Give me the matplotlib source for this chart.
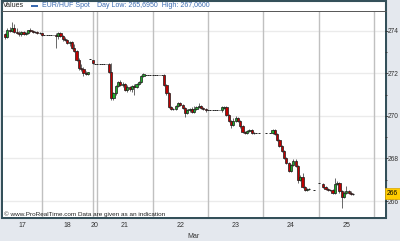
import matplotlib
matplotlib.use("Agg")
import matplotlib.pyplot as plt
from matplotlib.patches import Rectangle

plt.rcParams['font.family'] = ['Liberation Sans', 'DejaVu Sans']

# hourly candles, hour 0 = start of chart (17 Mar morning)
hours = [1, 2, 3, 4, 5, 6, 7, 8, 9, 10, 11, 12, 13, 14, 15, 16,
         17, 23, 24, 25, 26, 27, 28, 29, 30, 31, 32, 33, 34, 35, 36, 37,
         39,
         46, 47, 48, 49, 50, 51, 52, 53, 54, 55, 56, 57, 58, 59, 60, 61,
         70, 71, 72, 73, 74, 75, 76, 77, 78, 79, 80, 81, 82, 83, 84, 85, 86, 87, 88,
         95, 96, 97, 98, 99, 100, 101, 102, 103, 104, 105, 106, 107, 108, 109,
         117, 118, 119, 120, 121, 122, 123, 124, 125, 126, 127, 128, 129, 130, 131, 132, 133,
         139, 140, 141, 142, 143, 144, 145, 146, 147, 148, 149, 150, 151, 152]
opens = [273.85, 273.70, 274.05, 274.00, 274.10, 273.95, 273.90, 273.85, 273.95, 273.85, 273.90, 274.05, 274.00, 273.95, 273.95, 273.90,
         273.90, 273.80, 273.75, 273.90, 273.75, 273.60, 273.55, 273.40, 273.45, 273.20, 273.05, 272.60, 272.25, 272.20, 272.00, 271.95,
         272.60,
         272.45, 272.05, 270.85, 271.05, 271.40, 271.60, 271.45, 271.50, 271.20, 271.35, 271.25, 271.40, 271.35, 271.50, 271.60, 271.85,
         271.90, 271.45, 271.05, 270.40, 270.30, 270.30, 270.45, 270.60, 270.50, 270.35, 270.15, 270.25, 270.30, 270.20, 270.30, 270.40, 270.45, 270.35, 270.30,
         270.25, 270.35, 270.40, 270.05, 269.75, 269.55, 269.75, 269.90, 269.75, 269.50, 269.25, 269.20, 269.30, 269.35, 269.20,
         269.20, 269.35, 269.15, 268.85, 268.60, 268.35, 268.00, 267.80, 267.40, 267.70, 267.90, 267.65, 267.00, 267.15, 266.65, 266.50, 266.55,
         266.80, 266.65, 266.55, 266.50, 266.50, 266.40, 266.80, 266.85, 266.45, 266.20, 266.40, 266.45, 266.40, 266.35]
highs = [273.90, 274.10, 274.15, 274.40, 274.30, 274.10, 274.00, 274.00, 274.00, 273.95, 274.05, 274.10, 274.05, 274.00, 274.00, 273.95,
         273.90, 273.90, 273.95, 273.95, 273.80, 273.70, 273.60, 273.50, 273.50, 273.35, 273.10, 272.70, 272.45, 272.30, 272.10, 272.05,
         272.60,
         272.50, 272.50, 271.10, 271.45, 271.65, 271.70, 271.60, 271.55, 271.45, 271.40, 271.45, 271.50, 271.55, 271.65, 271.90, 272.00,
         271.95, 271.50, 271.10, 270.45, 270.35, 270.50, 270.65, 270.65, 270.55, 270.40, 270.30, 270.35, 270.40, 270.45, 270.45, 270.60, 270.50, 270.40, 270.35,
         270.45, 270.45, 270.45, 270.10, 269.80, 269.90, 270.00, 269.95, 269.80, 269.55, 269.30, 269.35, 269.40, 269.40, 269.25,
         269.40, 269.40, 269.20, 268.90, 268.65, 268.40, 268.05, 267.85, 267.75, 267.95, 267.95, 267.70, 267.20, 267.30, 266.70, 266.60, 266.60,
         266.85, 266.70, 266.60, 266.55, 266.55, 267.06, 266.95, 266.90, 266.50, 266.45, 266.70, 266.50, 266.45, 266.40]
lows = [273.60, 273.65, 273.95, 273.95, 273.90, 273.85, 273.75, 273.75, 273.80, 273.80, 273.85, 273.95, 273.90, 273.90, 273.85, 273.85,
        273.75, 273.20, 273.60, 273.70, 273.50, 273.50, 273.35, 273.30, 273.15, 273.00, 272.55, 272.15, 272.10, 271.85, 271.90, 271.90,
        272.45,
        272.00, 270.75, 270.75, 271.00, 271.35, 271.40, 271.35, 271.15, 271.10, 271.15, 271.10, 271.00, 271.30, 271.45, 271.55, 271.80,
        271.40, 271.00, 270.35, 270.25, 270.25, 270.25, 270.40, 270.45, 270.30, 269.95, 270.10, 270.20, 270.15, 270.15, 270.25, 270.35, 270.30, 270.25, 270.20,
        270.20, 270.30, 270.00, 269.70, 269.45, 269.50, 269.70, 269.70, 269.45, 269.20, 269.15, 269.15, 269.25, 269.15, 269.15,
        269.15, 269.10, 268.80, 268.55, 268.30, 267.95, 267.75, 267.35, 267.35, 267.65, 267.60, 266.85, 266.95, 266.60, 266.45, 266.45, 266.50,
        266.60, 266.50, 266.45, 266.45, 266.35, 266.35, 266.75, 266.40, 265.695, 266.15, 266.35, 266.35, 266.30, 266.30]
closes = [273.70, 274.05, 274.00, 274.10, 273.95, 273.90, 273.85, 273.95, 273.85, 273.90, 274.05, 274.00, 273.95, 273.95, 273.90, 273.90,
          273.80, 273.75, 273.90, 273.75, 273.60, 273.55, 273.40, 273.45, 273.20, 273.05, 272.60, 272.25, 272.20, 272.00, 271.95, 272.05,
          272.50,
          272.05, 270.85, 271.05, 271.40, 271.60, 271.45, 271.50, 271.20, 271.35, 271.25, 271.40, 271.35, 271.50, 271.60, 271.85, 271.95,
          271.45, 271.05, 270.40, 270.30, 270.30, 270.45, 270.60, 270.50, 270.35, 270.15, 270.25, 270.30, 270.20, 270.30, 270.40, 270.45, 270.35, 270.30, 270.25,
          270.40, 270.40, 270.05, 269.75, 269.55, 269.75, 269.90, 269.75, 269.50, 269.25, 269.20, 269.30, 269.35, 269.20, 269.20,
          269.35, 269.15, 268.85, 268.60, 268.35, 268.00, 267.80, 267.40, 267.70, 267.90, 267.65, 267.00, 267.15, 266.65, 266.50, 266.55, 266.55,
          266.65, 266.55, 266.50, 266.50, 266.40, 266.80, 266.85, 266.45, 266.20, 266.40, 266.45, 266.40, 266.35, 266.35]

# hours with no movement (drawn as dashes)
flat_hours = [18, 19, 20, 21, 22, 38, 40, 41, 42, 43, 44, 45,
              62, 63, 64, 65, 66, 67, 68, 69, 89, 90, 91, 92, 93, 94,
              110, 111, 114, 116, 135, 137]
flat_prices = [273.80, 273.80, 273.80, 273.80, 273.80, 272.65, 272.45, 272.45, 272.45, 272.45, 272.45, 272.45,
               271.90, 271.90, 271.90, 271.90, 271.90, 271.90, 271.90, 271.90, 270.25, 270.25, 270.25, 270.25, 270.25, 270.25,
               269.20, 269.20, 269.20, 269.20, 266.50, 266.85]

day_bounds = [17, 39, 41, 65, 89, 113, 137, 161]
day_centers = [8.5, 28, 40, 53, 77, 101, 125, 149]
day_labels = ['17', '18', '20', '21', '22', '23', '24', '25']
y_major = [266, 268, 270, 272, 274]
y_minor = [267, 269, 271, 273]

W, H = 400, 241


def fx(x):
    return x / W


def fy(y):
    return 1 - y / H


fig = plt.figure(figsize=(4, 2.41), dpi=100)
fig.patch.set_facecolor('#e4e8ee')

# white panel with dark frame
fig.add_artist(Rectangle((fx(1.5), fy(218)), fx(385.5) - fx(1.5), fy(0.5) - fy(218),
                         transform=fig.transFigure, facecolor='white',
                         edgecolor='#34505a', linewidth=1.5, zorder=0))
fig.add_artist(plt.Line2D([fx(1.5), fx(385.5)], [fy(10.5), fy(10.5)],
                          transform=fig.transFigure, color='#555555', linewidth=0.7))

ax = fig.add_axes([fx(3), fy(217), fx(385) - fx(3), fy(11) - fy(217)])
ax.set_facecolor('white')
for s in ax.spines.values():
    s.set_visible(False)

ax.set_xlim(0.09, 165.77)
ax.set_ylim(265.25, 274.92)

for v in y_major:
    ax.axhline(v, color='#ebebeb', linewidth=1.0, zorder=0)
for b in day_bounds:
    ax.axvline(b, color='#c0c0c0', linewidth=1.0, zorder=1)

# candles
for t, o, hi, lo, c in zip(hours, opens, highs, lows, closes):
    ax.vlines(t, lo, hi, color='#505050', linewidth=0.6, zorder=2)
    if c == o:
        ax.hlines(c, t - 0.45, t + 0.45, color='#222222', linewidth=0.8, zorder=3)
        continue
    col = '#1fae2a' if c > o else '#c00000'
    ax.bar(t, abs(c - o), bottom=min(o, c), width=0.95, color=col,
           edgecolor='#1a1a1a', linewidth=0.5, zorder=3)

for t, p in zip(flat_hours, flat_prices):
    ax.hlines(p, t - 0.4, t + 0.4, color='#222222', linewidth=0.7, zorder=3)

ax.yaxis.tick_right()
ax.set_yticks(y_major)
ax.set_yticks(y_minor, minor=True)
ax.tick_params(axis='y', which='major', length=2, width=0.6, color='#333333',
               labelsize=4.8, labelcolor='#333333', pad=0.3)
ax.tick_params(axis='y', which='minor', length=1.5, width=0.6, color='#333333')
ax.set_xticks(day_centers)
ax.set_xticklabels(day_labels)
ax.tick_params(axis='x', length=0, labelsize=5, labelcolor='#333333', pad=3.5)
ax.set_xlabel('Mar', fontsize=5, color='#333333', labelpad=3)

# last price tag
last = closes[-1]
ax.text(1.004, last, f'{last:.0f}', transform=ax.get_yaxis_transform(),
        ha='left', va='center', fontsize=4.8, color='black', clip_on=False,
        bbox=dict(boxstyle='square,pad=0.3', facecolor='#ffcc00', edgecolor='#d9a400', linewidth=0.5),
        zorder=10)

# header
fig.text(fx(3), fy(5.5), 'Values', fontsize=5, color='#222222', va='center')
fig.add_artist(Rectangle((fx(31), fy(6.5)), fx(7), fy(4.5) - fy(6.5),
                         transform=fig.transFigure, facecolor='#3a6ab0', edgecolor='none'))
fig.text(fx(42), fy(5.5), 'EUR/HUF Spot', fontsize=5, color='#3a6ab0', va='center')
fig.text(fx(97), fy(5.5), 'Day Low: 265,6950  High: 267,0600', fontsize=5,
         color='#3a6ab0', va='center')
fig.text(fx(4), fy(214), '\u00a9 www.ProRealTime.com Data are given as an indication',
         fontsize=4.6, color='#222222', va='center')

fig.savefig('out.png', dpi=100, facecolor=fig.get_facecolor())
